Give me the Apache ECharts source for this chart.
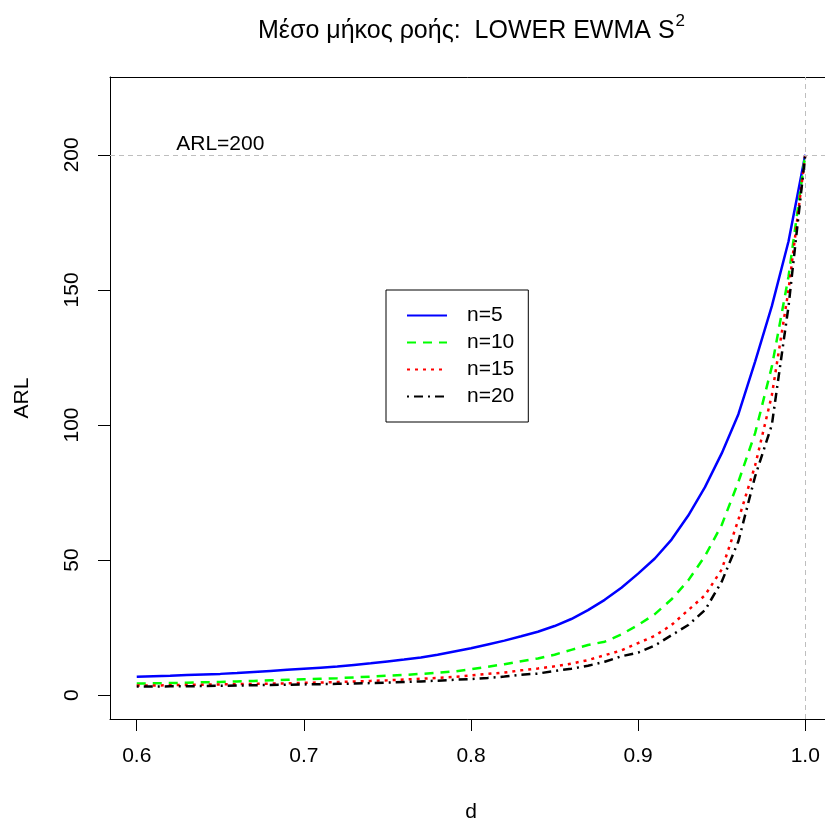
<!DOCTYPE html>
<html>
<head>
	<meta charset="utf-8" />
	<title>ARL LOWER EWMA S2</title>
	<script src="https://cdn.jsdelivr.net/npm/echarts@6.0.0/dist/echarts.min.js"></script>
	<style>
		html, body { margin: 0; padding: 0; background: #fff; }
		#main { width: 825px; height: 823px; }
	</style>
</head>
<body>
	<div id="main"></div>
	<script type="text/javascript">
		/******************* data ******************/
		var dValues = [0.60, 0.61, 0.62, 0.63, 0.64, 0.65, 0.66, 0.67, 0.68, 0.69,
			0.70, 0.71, 0.72, 0.73, 0.74, 0.75, 0.76, 0.77, 0.78, 0.79,
			0.80, 0.81, 0.82, 0.83, 0.84, 0.85, 0.86, 0.87, 0.88, 0.89,
			0.90, 0.91, 0.92, 0.93, 0.94, 0.95, 0.96, 0.97, 0.98, 0.99, 1.00];

		var arlN5 = [6.8, 7.0, 7.2, 7.5, 7.7, 7.9, 8.2, 8.6, 9.0, 9.4,
			9.8, 10.2, 10.6, 11.2, 11.8, 12.5, 13.2, 14.0, 15.0, 16.2,
			17.4, 18.8, 20.2, 21.8, 23.5, 25.6, 28.2, 31.5, 35.3, 39.8,
			45.0, 50.6, 57.6, 66.5, 77.0, 89.5, 104, 123.5, 144, 168, 200];

		var arlN10 = [4.3, 4.4, 4.5, 4.6, 4.8, 4.9, 5.1, 5.3, 5.5, 5.7,
			5.9, 6.1, 6.3, 6.6, 6.9, 7.2, 7.5, 7.9, 8.3, 8.8,
			9.6, 10.5, 11.5, 12.6, 13.6, 15.0, 16.8, 18.6, 19.8, 22.5,
			26.0, 30.0, 35.5, 42.5, 51.5, 63, 79, 97, 121.6, 155, 200];

		var arlN15 = [3.6, 3.6, 3.7, 3.8, 3.9, 4.0, 4.1, 4.2, 4.3, 4.4,
			4.6, 4.7, 4.9, 5.1, 5.3, 5.5, 5.8, 6.1, 6.4, 6.8,
			7.3, 7.9, 8.4, 9.2, 9.9, 10.7, 11.7, 13.0, 14.8, 16.6,
			19.3, 22.0, 26.0, 31.5, 37.0, 46.5, 65, 85, 111, 150, 200];

		var arlN20 = [3.2, 3.2, 3.3, 3.3, 3.4, 3.5, 3.6, 3.7, 3.8, 3.9,
			4.0, 4.1, 4.2, 4.3, 4.5, 4.7, 4.9, 5.1, 5.4, 5.7,
			6.0, 6.4, 6.9, 7.6, 8.0, 9.0, 9.8, 10.9, 12.4, 14.4,
			15.8, 18.4, 22.2, 26.0, 31.5, 42, 57, 81, 100, 144, 200];

		var seriesNames = ['n=5', 'n=10', 'n=15', 'n=20'];
		var xTicks = [0.6, 0.7, 0.8, 0.9, 1.0];
		var yTicks = [0, 50, 100, 150, 200];
		var refArl = 200;
		var refD = 1.0;

		/******************* chart ******************/
		var font = '"Liberation Sans", Arial, Helvetica, sans-serif';
		var xMin = 0.584, xMax = 1.016;   // R style 4% padding
		var yMin = -8.8, yMax = 228.8;

		function pairs(ys) {
			var out = [];
			for (let i = 0; i < dValues.length; ++i) {
				out.push([dValues[i], ys[i]]);
			}
			return out;
		}

		var dom = document.getElementById('main');
		var myChart = echarts.init(dom, null, { renderer: 'canvas' });

		var option = {
			animation: false,
			backgroundColor: '#ffffff',
			textStyle: { fontFamily: font },
			title: {
				left: 253,
				top: 8,
				text: '{a|Μέσο μήκος ροής:  LOWER EWMA S}{b|2}',
				textStyle: {
					fontWeight: 'normal',
					rich: {
						a: { fontFamily: font, fontSize: 25, fontWeight: 'normal', color: '#000', verticalAlign: 'bottom' },
						b: { fontFamily: font, fontSize: 17, fontWeight: 'normal', color: '#000', verticalAlign: 'top', padding: [0, 0, 14, 1] }
					}
				}
			},
			legend: {
				left: 386,
				top: 290,
				orient: 'vertical',
				data: seriesNames,
				borderColor: '#000',
				borderWidth: 1,
				borderRadius: 0,
				padding: [15, 14, 15, 20],
				itemWidth: 40,
				itemHeight: 14,
				itemGap: 6,
				selectedMode: false,
				itemStyle: { opacity: 0 },
				textStyle: { fontFamily: font, fontSize: 21, lineHeight: 21, color: '#000', padding: [0, 0, 0, 15] }
			},
			grid: {
				left: 110,
				top: 77,
				width: 722,
				height: 642,
				outerBoundsMode: 'none',
				containLabel: false,
				show: false
			},
			xAxis: [
				{
					type: 'value',
					position: 'bottom',
					min: xMin,
					max: xMax,
					name: 'd',
					nameLocation: 'middle',
					nameGap: 83,
					nameTextStyle: { fontFamily: font, fontSize: 21, color: '#000' },
					axisLine: { show: true, onZero: false, lineStyle: { color: '#000', width: 1 } },
					splitLine: { show: false },
					axisTick: { show: true, inside: false, length: 12, customValues: xTicks, lineStyle: { color: '#000' } },
					axisLabel: {
						customValues: xTicks,
						margin: 27,
						fontFamily: font, fontSize: 21, color: '#000',
						formatter: function (v) { return v.toFixed(1); }
					}
				},
				{
					// top edge of the plot box
					type: 'value',
					position: 'top',
					min: xMin,
					max: xMax,
					axisLine: { show: true, onZero: false, lineStyle: { color: '#000', width: 1 } },
					axisTick: { show: false },
					axisLabel: { show: false },
					splitLine: { show: false }
				}
			],
			yAxis: {
				type: 'value',
				min: yMin,
				max: yMax,
				name: 'ARL',
				nameLocation: 'middle',
				nameGap: 77,
				nameRotate: 90,
				nameTextStyle: { fontFamily: font, fontSize: 21, color: '#000' },
				axisLine: { show: true, onZero: false, lineStyle: { color: '#000', width: 1 } },
				splitLine: { show: false },
				axisTick: { show: true, inside: false, length: 12, customValues: yTicks, lineStyle: { color: '#000' } },
				axisLabel: {
					customValues: yTicks,
					rotate: 90,
					margin: 27,
					fontFamily: font, fontSize: 21, color: '#000'
				}
			},
			series: [
				{
					name: seriesNames[0],
					type: 'line',
					symbol: 'none',
					data: pairs(arlN5),
					lineStyle: { color: '#0000ff', width: 2.5, type: 'solid' },
					itemStyle: { color: '#0000ff' },
					markLine: {
						silent: true,
						symbol: ['none', 'none'],
						label: { show: false },
						lineStyle: { color: '#bebebe', width: 1, type: [5, 4] },
						data: [{ yAxis: refArl }, { xAxis: refD }]
					},
					z: 2
				},
				{
					name: seriesNames[1],
					type: 'line',
					symbol: 'none',
					data: pairs(arlN10),
					lineStyle: { color: '#00ff00', width: 2.5, type: [9, 7] },
					itemStyle: { color: '#00ff00' },
					z: 3
				},
				{
					name: seriesNames[2],
					type: 'line',
					symbol: 'none',
					data: pairs(arlN15),
					lineStyle: { color: '#ff0000', width: 2.5, type: [3, 5] },
					itemStyle: { color: '#ff0000' },
					z: 4
				},
				{
					name: seriesNames[3],
					type: 'line',
					symbol: 'none',
					data: pairs(arlN20),
					lineStyle: { color: '#000000', width: 2.5, type: [2, 5, 9, 5] },
					itemStyle: { color: '#000000' },
					z: 5
				},
				{
					// ARL=200 annotation
					name: 'note',
					type: 'scatter',
					symbolSize: 0,
					silent: true,
					data: [[0.65, 204]],
					itemStyle: { opacity: 1 },
					label: {
						show: true,
						position: 'inside',
						formatter: 'ARL=200',
						fontFamily: font, fontSize: 21, color: '#000000',
						opacity: 1,
						textBorderWidth: 0
					}
				}
			]
		};

		myChart.setOption(option);
		window.addEventListener('resize', myChart.resize);
	</script>
</body>
</html>
